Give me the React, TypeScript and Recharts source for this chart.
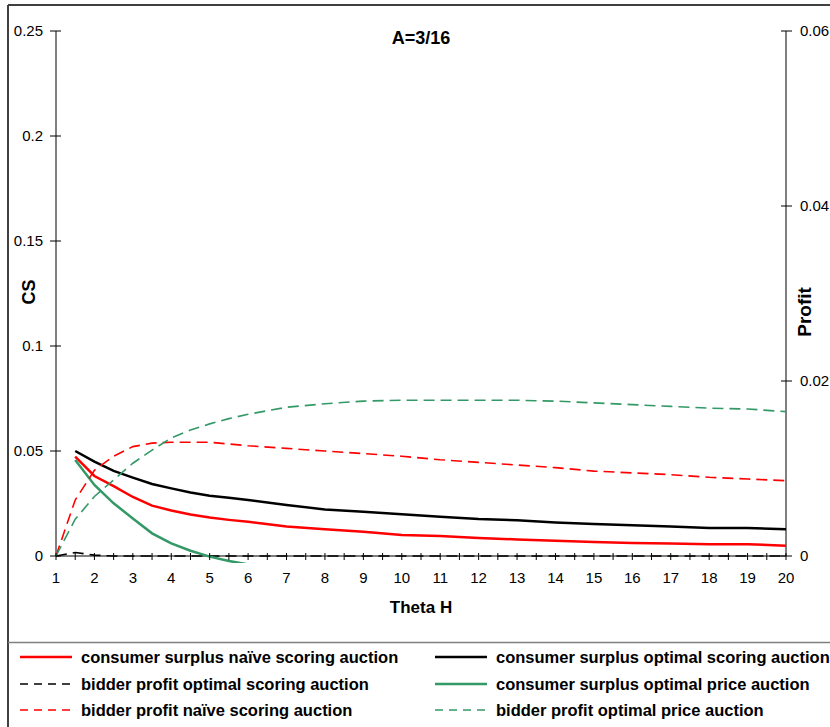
import React from "react";
import {
  LineChart,
  Line,
  XAxis,
  YAxis,
  ReferenceLine,
} from "recharts";

// Theta H values (x axis)
const thetaH = [1, 1.5, 2, 2.5, 3, 3.5, 4, 4.5, 5, 5.5, 6, 7, 8, 9, 10, 11, 12, 13, 14, 15, 16, 17, 18, 19, 20];

// CS (left axis)
const csNaiveScoring = [null, 0.0473, 0.0381, 0.0333, 0.0281, 0.0240, 0.0217, 0.0198, 0.0183, 0.0172, 0.0163, 0.0141, 0.0127, 0.0116, 0.0100, 0.0095, 0.0086, 0.0079, 0.0073, 0.0067, 0.0062, 0.0060, 0.0056, 0.0056, 0.0049];
const csOptimalScoring = [null, 0.0500, 0.0449, 0.0405, 0.0373, 0.0343, 0.0322, 0.0302, 0.0287, 0.0277, 0.0267, 0.0243, 0.0222, 0.0211, 0.0199, 0.0187, 0.0176, 0.0170, 0.0159, 0.0152, 0.0146, 0.0140, 0.0133, 0.0133, 0.0127];
const csOptimalPrice = [null, 0.0457, 0.0338, 0.0251, 0.0179, 0.0108, 0.0060, 0.0025, -0.0003, -0.0024, -0.0040, null, null, null, null, null, null, null, null, null, null, null, null, null, null];

// Profit (right axis)
const bpOptimalScoring = [0, 0.0004, 0.0001, 0, 0, 0, 0, 0, 0, 0, 0, 0, 0, 0, 0, 0, 0, 0, 0, 0, 0, 0, 0, 0, 0];
const bpNaiveScoring = [0, 0.0064, 0.0098, 0.0114, 0.0125, 0.0129, 0.0130, 0.0130, 0.0130, 0.0128, 0.0126, 0.0123, 0.0120, 0.0117, 0.0114, 0.0110, 0.0107, 0.0104, 0.0101, 0.0097, 0.0095, 0.0093, 0.0090, 0.0088, 0.0086];
const bpOptimalPrice = [0, 0.0042, 0.0068, 0.0087, 0.0106, 0.0121, 0.0135, 0.0144, 0.0151, 0.0157, 0.0162, 0.0170, 0.0174, 0.0177, 0.0178, 0.0178, 0.0178, 0.0178, 0.0177, 0.0175, 0.0173, 0.0171, 0.0169, 0.0168, 0.0165];

const xTicks = [1, 1.5, 2, 2.5, 3, 3.5, 4, 4.5, 5, 5.5, 6, 6.5, 7, 7.5, 8, 8.5, 9, 9.5, 10, 10.5, 11, 11.5, 12, 12.5, 13, 13.5, 14, 14.5, 15, 15.5, 16, 16.5, 17, 17.5, 18, 18.5, 19, 19.5, 20];
const csTicks = [0, 0.05, 0.1, 0.15, 0.2, 0.25];
const profitTicks = [0, 0.02, 0.04, 0.06];

const data = thetaH.map((t, i) => ({
  theta: t,
  csNaive: csNaiveScoring[i],
  csOptimal: csOptimalScoring[i],
  bpOptimal: bpOptimalScoring[i],
  csPrice: csOptimalPrice[i],
  bpNaive: bpNaiveScoring[i],
  bpPrice: bpOptimalPrice[i],
}));

const RED = "#FF0000";
const GREEN = "#339966";
const DASH = "11 6";

const series = [
  { key: "csNaive", name: "consumer surplus naïve scoring auction", color: RED, dashed: false, axis: "left" },
  { key: "csOptimal", name: "consumer surplus optimal scoring auction", color: "#000000", dashed: false, axis: "left" },
  { key: "bpOptimal", name: "bidder profit optimal scoring auction", color: "#000000", dashed: true, axis: "right" },
  { key: "csPrice", name: "consumer surplus optimal price auction", color: GREEN, dashed: false, axis: "left" },
  { key: "bpNaive", name: "bidder profit naïve scoring auction", color: RED, dashed: true, axis: "right" },
  { key: "bpPrice", name: "bidder profit optimal price auction", color: GREEN, dashed: true, axis: "right" },
];

const FONT = "'Liberation Sans', Arial, sans-serif";

const XTick = (props: any) => {
  const { x, y, payload } = props;
  const v = payload.value;
  return (
    <g>
      <line x1={x} x2={x} y1={y - 10} y2={y - 3} stroke="#000" strokeWidth={1} />
      {Number.isInteger(v) && (
        <text x={x} y={y + 20} textAnchor="middle" fontSize={15} fontFamily={FONT} fill="#000">
          {v}
        </text>
      )}
    </g>
  );
};

const LeftTick = (props: any) => {
  const { x, y, payload } = props;
  return (
    <g>
      <line x1={x - 6} x2={x + 5} y1={y} y2={y} stroke="#000" strokeWidth={1} />
      <text x={x - 13} y={y} dy="0.35em" textAnchor="end" fontSize={15} fontFamily={FONT} fill="#000">
        {payload.value}
      </text>
    </g>
  );
};

const RightTick = (props: any) => {
  const { x, y, payload } = props;
  return (
    <g>
      <line x1={x - 5} x2={x + 6} y1={y} y2={y} stroke="#000" strokeWidth={1} />
      <text x={x + 14} y={y} dy="0.35em" textAnchor="start" fontSize={15} fontFamily={FONT} fill="#000">
        {payload.value}
      </text>
    </g>
  );
};

const legendCols = [20, 435];
const legendRows = [657, 684, 710];

export default function App() {
  return (
    <div
      style={{
        position: "absolute",
        left: 0,
        top: 0,
        width: 830,
        height: 727,
        overflow: "hidden",
        background: "#fff",
        fontFamily: FONT,
      }}
    >
      <LineChart
        width={830}
        height={727}
        data={data}
        margin={{ top: 31, right: 4, bottom: 134, left: 8 }}
      >
        <XAxis
          dataKey="theta"
          type="number"
          domain={[1, 20]}
          ticks={xTicks}
          interval={0}
          axisLine={false}
          tickLine={false}
          tickSize={0}
          tickMargin={0}
          height={30}
          tick={XTick}
        />
        <YAxis
          yAxisId="left"
          type="number"
          domain={[-0.0033333, 0.25]}
          allowDataOverflow
          ticks={csTicks}
          interval={0}
          axisLine={false}
          tickLine={false}
          tickSize={0}
          tickMargin={0}
          width={48}
          tick={LeftTick}
        />
        <YAxis
          yAxisId="right"
          orientation="right"
          type="number"
          domain={[-0.0008, 0.06]}
          allowDataOverflow
          ticks={profitTicks}
          interval={0}
          axisLine={false}
          tickLine={false}
          tickSize={0}
          tickMargin={0}
          width={40}
          tick={RightTick}
        />
        <ReferenceLine yAxisId="left" y={0} stroke="#000" strokeWidth={1} ifOverflow="visible" />
        <ReferenceLine
          yAxisId="left"
          segment={[{ x: 1, y: 0 }, { x: 1, y: 0.25 }]}
          stroke="#000"
          strokeWidth={1}
          ifOverflow="visible"
        />
        <ReferenceLine
          yAxisId="right"
          segment={[{ x: 20, y: 0 }, { x: 20, y: 0.06 }]}
          stroke="#000"
          strokeWidth={1}
          ifOverflow="visible"
        />
        {series.map((s) => (
          <Line
            key={s.key}
            yAxisId={s.axis}
            dataKey={s.key}
            name={s.name}
            type="linear"
            stroke={s.color}
            strokeWidth={s.dashed ? 1.6 : 2.5}
            strokeDasharray={s.dashed ? DASH : undefined}
            dot={false}
            activeDot={false}
            isAnimationActive={false}
          />
        ))}
      </LineChart>

      {/* frame, titles and legend */}
      <svg
        width={830}
        height={727}
        style={{ position: "absolute", left: 0, top: 0, pointerEvents: "none" }}
        fontFamily={FONT}
      >
        <line x1={8} x2={830} y1={5} y2={5} stroke="#404040" strokeWidth={2} />
        <line x1={8} x2={8} y1={5} y2={727} stroke="#404040" strokeWidth={2} />
        <line x1={8} x2={830} y1={642.5} y2={642.5} stroke="#808080" strokeWidth={1.5} />

        <text x={421} y={44} textAnchor="middle" fontSize={18} fontWeight="bold">
          A=3/16
        </text>
        <text x={421} y={613} textAnchor="middle" fontSize={17} fontWeight="bold">
          Theta H
        </text>
        <text
          transform="translate(29,292) rotate(-90)"
          textAnchor="middle"
          dominantBaseline="central"
          fontSize={18}
          fontWeight="bold"
        >
          CS
        </text>
        <text
          transform="translate(804,312) rotate(-90)"
          textAnchor="middle"
          dominantBaseline="central"
          fontSize={19}
          fontWeight="bold"
        >
          Profit
        </text>

        {series.map((s, i) => {
          const cx = legendCols[i % 2];
          const cy = legendRows[Math.floor(i / 2)];
          return (
            <g key={s.key}>
              <line
                x1={cx}
                x2={cx + 52}
                y1={cy}
                y2={cy}
                stroke={s.color}
                strokeWidth={s.dashed ? 1.6 : 2.5}
                strokeDasharray={s.dashed ? "8 6" : undefined}
              />
              <text x={cx + 61} y={cy} dy="0.35em" fontSize={16.5} fontWeight="bold" fill="#000">
                {s.name}
              </text>
            </g>
          );
        })}
      </svg>
    </div>
  );
}
